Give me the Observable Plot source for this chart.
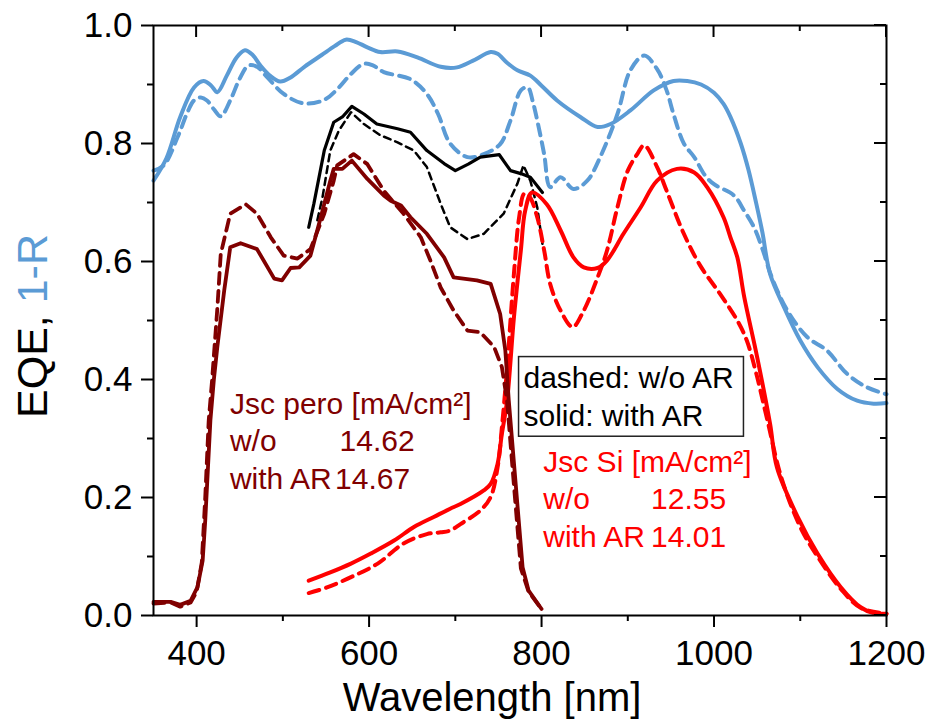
<!DOCTYPE html>
<html>
<head>
<meta charset="utf-8">
<script src="https://cdn.jsdelivr.net/npm/d3@7"></script>
<script src="https://cdn.jsdelivr.net/npm/@observablehq/plot@0.6"></script>
<style>
  html, body { margin: 0; padding: 0; background: #fff; }
  #chart svg { display: block; }
</style>
</head>
<body>
<div id="chart"></div>
<script>
// ---- Data: [wavelength nm, value] ----
const oneMinusR_withAR = [
  [350,.737],[365,.775],[381,.845],[397,.895],[408,.906],[417,.898],[424,.887],[435,.915],[446,.945],[456,.958],
  [465,.950],[474,.932],[485,.915],[497,.905],[509,.912],[525,.930],[545,.950],[560,.965],[573,.976],[585,.972],
  [598,.963],[613,.955],[633,.956],[656,.946],[683,.930],[702,.929],[720,.940],[741,.955],[749,.952],[760,.937],
  [772,.924],[787,.915],[800,.898],[818,.873],[845,.845],[865,.828],[880,.833],[903,.856],[930,.890],[953,.906],
  [969,.906],[985,.900],[1000,.886],[1011,.867],[1019,.845],[1031,.800],[1040,.755],[1049,.698],[1056,.650],
  [1065,.579],[1081,.523],[1100,.466],[1120,.421],[1143,.384],[1166,.364],[1185,.359],[1200,.360]
];
const oneMinusR_noAR = [
  [350,.754],[362,.763],[378,.811],[390,.855],[397,.873],[405,.878],[412,.873],[420,.858],[428,.846],[439,.873],
  [450,.910],[460,.932],[470,.930],[482,.912],[501,.884],[524,.868],[548,.874],[565,.895],[579,.918],[594,.935],
  [605,.932],[617,.921],[648,.909],[667,.884],[680,.850],[694,.800],[714,.777],[733,.782],[752,.799],[764,.839],
  [776,.890],[784,.895],[790,.870],[795,.839],[803,.782],[810,.726],[822,.743],[837,.723],[853,.737],[868,.777],
  [888,.850],[903,.924],[919,.949],[934,.926],[945,.890],[953,.850],[965,.800],[977,.777],[990,.745],[1000,.731],
  [1023,.712],[1035,.686],[1046,.659],[1056,.622],[1067,.573],[1085,.517],[1108,.472],[1131,.449],[1154,.410],
  [1177,.387],[1200,.375]
];
const eqeTotal_withAR = [
  [530,.658],[536,.698],[548,.788],[559,.836],[569,.845],[580,.863],[594,.850],[609,.833],[633,.825],[648,.819],
  [667,.788],[687,.766],[700,.754],[715,.765],[729,.777],[751,.781],[764,.754],[776,.749],[787,.743],[801,.717]
];
const eqeTotal_noAR = [
  [540,.670],[546,.709],[555,.788],[565,.822],[579,.853],[594,.833],[613,.814],[633,.802],[652,.788],[667,.760],
  [683,.698],[694,.658],[714,.638],[733,.647],[756,.681],[772,.732],[779,.763],[787,.737],[795,.692],[801,.630]
];
const eqePero_withAR = [
  [350,.023],[370,.023],[381,.018],[393,.025],[401,.048],[407,.093],[410,.161],[413,.246],[416,.331],[420,.400],
  [424,.455],[432,.551],[439,.624],[451,.631],[470,.621],[490,.571],[499,.568],[509,.589],[519,.590],[532,.610],
  [544,.675],[555,.737],[559,.757],[569,.757],[580,.771],[598,.740],[617,.712],[625,.703],[637,.695],[648,.675],
  [667,.647],[687,.607],[698,.573],[725,.568],[741,.562],[752,.511],[758,.449],[762,.364],[770,.223],[778,.082],
  [785,.042],[800,.011]
];
const eqePero_noAR = [
  [350,.020],[370,.022],[381,.015],[393,.022],[400,.040],[406,.090],[410,.200],[414,.330],[418,.400],[424,.520],
  [428,.613],[439,.681],[457,.697],[470,.681],[486,.641],[501,.610],[517,.605],[532,.621],[548,.681],[559,.737],
  [563,.763],[582,.782],[598,.765],[617,.720],[640,.681],[660,.641],[671,.602],[683,.556],[698,.517],[714,.483],
  [729,.480],[745,.455],[754,.421],[760,.364],[768,.220],[776,.080],[785,.040],[800,.011]
];
const eqeSi_withAR = [
  [530,.059],[555,.073],[579,.088],[602,.105],[629,.127],[652,.150],[675,.167],[694,.181],[706,.189],[733,.212],
  [741,.223],[749,.257],[754,.308],[760,.364],[768,.506],[776,.619],[781,.686],[789,.717],[806,.697],[822,.653],
  [837,.607],[849,.590],[865,.589],[876,.602],[895,.647],[915,.692],[934,.737],[957,.757],[977,.751],[992,.726],
  [1011,.675],[1019,.641],[1027,.607],[1035,.540],[1050,.438],[1065,.325],[1073,.251],[1097,.167],[1120,.105],
  [1147,.048],[1170,.014],[1185,.004],[1200,.003]
];
const eqeSi_noAR = [
  [530,.038],[552,.048],[579,.065],[610,.088],[640,.122],[667,.138],[683,.141],[694,.144],[706,.155],[729,.178],
  [741,.201],[749,.251],[754,.319],[760,.420],[768,.580],[774,.675],[780,.715],[786,.710],[795,.675],[803,.619],
  [810,.562],[822,.517],[836,.489],[849,.517],[865,.573],[876,.619],[888,.692],[900,.754],[911,.782],[919,.797],
  [934,.760],[945,.720],[965,.647],[984,.593],[1007,.545],[1027,.500],[1038,.466],[1049,.410],[1062,.330],
  [1078,.234],[1100,.150],[1120,.100],[1147,.045],[1170,.013],[1200,.003]
];

const xMajorTicks = [400, 600, 800, 1000, 1200];
const xMinorTicks = [500, 700, 900, 1100];
const yMajorTicks = [0, 0.2, 0.4, 0.6, 0.8, 1.0];
const yMinorTicks = [0.1, 0.3, 0.5, 0.7, 0.9];

const peroLabels = ["Jsc pero [mA/cm²]", "w/o", "with AR"];
const peroJsc = ["14.62", "14.67"];
const siLabels = ["Jsc Si [mA/cm²]", "w/o", "with AR"];
const siJsc = ["12.55", "14.01"];
const styleLegend = ["dashed: w/o AR", "solid: with AR"];

// ---- styling ----
const BLUE = "#5B9BD5";
const MAROON = "#800000";
const RED = "#FF0000";
const FONT = "'Liberation Sans', Arial, Helvetica, sans-serif";
const X = d => d[0], Y = d => d[1];
const LH = 0.0639; // annotation line spacing in y units

const chart = Plot.plot({
  width: 935,
  height: 725,
  marginLeft: 153,
  marginRight: 49,
  marginTop: 25,
  marginBottom: 110,
  style: { fontFamily: FONT, background: "#fff", color: "#000", overflow: "visible" },
  x: { domain: [350, 1200] },
  y: { domain: [0, 1] },
  marks: [
    Plot.line(oneMinusR_noAR, { x: X, y: Y, stroke: BLUE, strokeWidth: 4, strokeDasharray: "11,7", curve: "catmull-rom" }),
    Plot.line(oneMinusR_withAR, { x: X, y: Y, stroke: BLUE, strokeWidth: 4, curve: "catmull-rom" }),
    Plot.line(eqeTotal_noAR, { x: X, y: Y, stroke: "#000", strokeWidth: 2.5, strokeDasharray: "7,5" }),
    Plot.line(eqeTotal_withAR, { x: X, y: Y, stroke: "#000", strokeWidth: 3.2 }),
    Plot.line(eqeSi_noAR, { x: X, y: Y, stroke: RED, strokeWidth: 4, strokeDasharray: "11,7", curve: "catmull-rom" }),
    Plot.line(eqeSi_withAR, { x: X, y: Y, stroke: RED, strokeWidth: 4, curve: "catmull-rom" }),
    Plot.line(eqePero_noAR, { x: X, y: Y, stroke: MAROON, strokeWidth: 3.8, strokeDasharray: "11,7" }),
    Plot.line(eqePero_withAR, { x: X, y: Y, stroke: MAROON, strokeWidth: 3.8 }),

    // annotations
    Plot.text(peroLabels, { x: 438.6, y: (d, i) => 0.342 - i * LH, text: d => d, fill: MAROON, fontSize: 30, textAnchor: "start", lineAnchor: "bottom" }),
    Plot.text(peroJsc, { x: (d, i) => i === 0 ? 565.8 : 560.5, y: (d, i) => 0.342 - (i + 1) * LH, text: d => d, fill: MAROON, fontSize: 30, textAnchor: "start", lineAnchor: "bottom" }),
    Plot.text(siLabels, { x: 802, y: (d, i) => 0.244 - i * LH, text: d => d, fill: RED, fontSize: 30, textAnchor: "start", lineAnchor: "bottom" }),
    Plot.text(siJsc, { x: 927, y: (d, i) => 0.244 - (i + 1) * LH, text: d => d, fill: RED, fontSize: 30, textAnchor: "start", lineAnchor: "bottom" }),

    // style legend box
    Plot.rect([0], { x1: 773.9, x2: 1034.7, y1: 0.303, y2: 0.438, fill: "#fff", stroke: "#222", strokeWidth: 1.5 }),
    Plot.text(styleLegend, { x: 779, y: (d, i) => 0.385 - i * 0.063, text: d => d, fill: "#000", fontSize: 30, textAnchor: "start", lineAnchor: "bottom" }),

    Plot.frame({ stroke: "#000", strokeWidth: 2 }),
    Plot.axisX(xMajorTicks, { tickSize: 12, tickPadding: 13, fontSize: 35, strokeWidth: 2, label: null, tickFormat: d3.format("d") }),
    Plot.axisX(xMinorTicks, { tickSize: 6, strokeWidth: 2, label: null, tickFormat: () => "" }),
    Plot.axisY(yMajorTicks, { tickSize: 12, tickPadding: 9, fontSize: 35, strokeWidth: 2, label: null, tickFormat: d3.format(".1f") }),
    Plot.axisY(yMinorTicks, { tickSize: 6, strokeWidth: 2, label: null, tickFormat: () => "" })
  ]
});

document.getElementById("chart").appendChild(chart);

// inward ticks on top and right edges, positioned through Plot's own scales
const sx = chart.scale("x"), sy = chart.scale("y");
const svg = d3.select(chart);
const frameTop = 25, frameRight = 935 - 49;
const g = svg.append("g").attr("stroke", "#000").attr("stroke-width", 2);
xMajorTicks.concat(xMinorTicks).forEach(t => {
  const len = xMajorTicks.includes(t) ? 12 : 6;
  const px = sx.apply(t);
  g.append("line").attr("x1", px).attr("x2", px).attr("y1", frameTop).attr("y2", frameTop + len);
});
yMajorTicks.concat(yMinorTicks).forEach(t => {
  const len = yMajorTicks.includes(t) ? 12 : 6;
  const py = sy.apply(t);
  g.append("line").attr("x1", frameRight).attr("x2", frameRight - len).attr("y1", py).attr("y2", py);
});

// axis titles
const yTitle = svg.append("text")
  .attr("transform", "translate(47,326) rotate(-90)")
  .attr("text-anchor", "middle")
  .attr("font-family", FONT)
  .attr("font-size", 43);
yTitle.append("tspan").attr("fill", "#000").text("EQE, ");
yTitle.append("tspan").attr("fill", BLUE).text("1-R");

svg.append("text")
  .attr("x", 492).attr("y", 711)
  .attr("text-anchor", "middle")
  .attr("font-family", FONT)
  .attr("font-size", 40)
  .attr("fill", "#000")
  .text("Wavelength [nm]");
</script>
</body>
</html>
